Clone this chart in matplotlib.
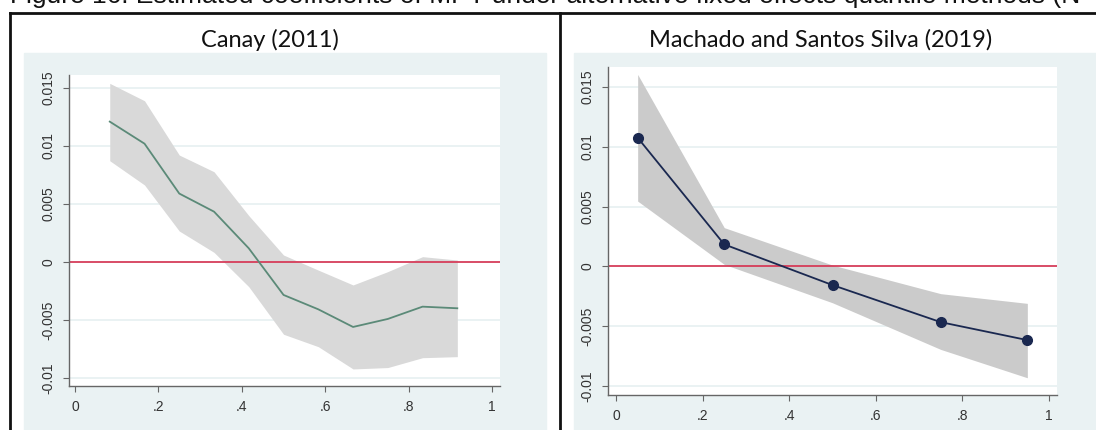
import matplotlib
matplotlib.use("Agg")
import matplotlib.pyplot as plt
from matplotlib.patches import Rectangle
from matplotlib.lines import Line2D

# Canay (2011): quantiles 1/12 .. 11/12
canay_q = [1/12, 2/12, 3/12, 4/12, 5/12, 6/12, 7/12, 8/12, 9/12, 10/12, 11/12]
canay_b = [0.0121, 0.0102, 0.0059, 0.00434, 0.00118, -0.00284, -0.00408, -0.0056, -0.00491, -0.00385, -0.00399]
canay_hi = [0.0154, 0.0139, 0.00922, 0.00778, 0.0040, 0.0006, -0.0007, -0.00198, -0.00083, 0.00046, 0.00017]
canay_lo = [0.00873, 0.00664, 0.00267, 0.00083, -0.00213, -0.00623, -0.0073, -0.00922, -0.0091, -0.00825, -0.00816]

# Machado and Santos Silva (2019)
mss_q = [0.05, 0.25, 0.5, 0.75, 0.95]
mss_b = [0.01076, 0.00184, -0.00156, -0.00466, -0.00616]
mss_hi = [0.01605, 0.00324, 0.00011, -0.00228, -0.00309]
mss_lo = [0.00546, 0.00017, -0.00304, -0.00694, -0.00931]

yticks = [-0.01, -0.005, 0, 0.005, 0.01, 0.015]
ylabels = ["-0.01", "-0.005", "0", "0.005", "0.01", "0.015"]
xticks = [0, 0.2, 0.4, 0.6, 0.8, 1]
xlabels = ["0", ".2", ".4", ".6", ".8", "1"]

W, H = 1096, 430
fig = plt.figure(figsize=(W / 100, H / 100), dpi=100)
fig.patch.set_facecolor("white")


def box(x0, y0, x1, y1):
    # pixel box (top-left origin) -> figure fraction
    return [x0 / W, 1 - y1 / H, (x1 - x0) / W, (y1 - y0) / H]


bg = "#eaf2f3"
# light blue graph regions
for x0, x1 in [(24, 546), (574, 1110)]:
    fig.patches.append(Rectangle((x0 / W, 0), (x1 - x0) / W, 1 - 53 / H,
                                 transform=fig.transFigure, color=bg, zorder=-5))

# black frame
fig.lines.append(Line2D([10 / W, 10 / W], [0, 1 - 13 / H], transform=fig.transFigure, color="#111111", lw=2))
fig.lines.append(Line2D([560 / W, 560 / W], [0, 1 - 13 / H], transform=fig.transFigure, color="#111111", lw=2))
fig.lines.append(Line2D([10 / W, 1], [1 - 13 / H, 1 - 13 / H], transform=fig.transFigure, color="#111111", lw=2))

fig.text(10 / W, 1 - 3 / H,
         "Figure 16: Estimated coefficients of MPT under alternative fixed effects quantile methods (N",
         fontsize=19, family="Liberation Sans", va="baseline", ha="left", color="#111111")


def panel(rect, title, tx, q, b, lo, hi, xlim, ylim, band, line, marker):
    ax = fig.add_axes(rect)
    ax.set_zorder(2)
    ax.set_facecolor("white")
    ax.fill_between(q, lo, hi, color=band, lw=0, zorder=1)
    ax.axhline(0, color="#d6304f", lw=1.2, zorder=2)
    ax.plot(q, b, color=line, lw=1.3, marker=marker, ms=7 if marker else 0, zorder=3)
    ax.set_xlim(*xlim)
    ax.set_ylim(*ylim)
    ax.set_yticks(yticks)
    ax.set_yticklabels(ylabels, rotation=90, va="center")
    ax.set_xticks(xticks)
    ax.set_xticklabels(xlabels)
    ax.grid(axis="y", color="#e6f0f1", lw=1.2)
    ax.set_axisbelow(True)
    for s in ["top", "right"]:
        ax.spines[s].set_visible(False)
    for s in ["left", "bottom"]:
        ax.spines[s].set_color("#666666")
        ax.spines[s].set_linewidth(1)
    ax.tick_params(colors="#666666", labelcolor="#333333", labelsize=10, length=4, pad=6)
    for lab in ax.get_yticklabels() + ax.get_xticklabels():
        lab.set_family("Liberation Sans")
    fig.text(tx / W, 1 - 40 / H, title, fontsize=17, family="Lato", ha="center", va="center", color="#111111")
    return ax


panel(box(69, 75, 500, 386), "Canay (2011)", 270,
      canay_q, canay_b, canay_lo, canay_hi,
      (-0.0144, 1.019), (-0.01069, 0.01612), "#d9d9d9", "#5b8a78", None)

panel(box(608, 67, 1057, 395), "Machado and Santos Silva (2019)", 821,
      mss_q, mss_b, mss_lo, mss_hi,
      (-0.0185, 1.0185), (-0.01075, 0.01667), "#cbcbcb", "#1a2850", "o")

fig.savefig("out.png", dpi=100)
